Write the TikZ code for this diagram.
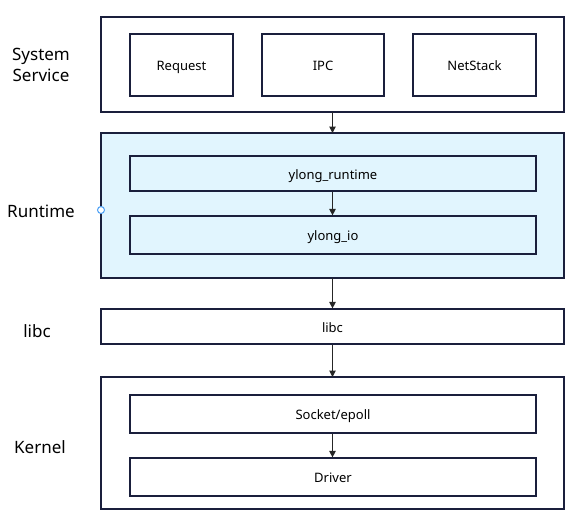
\documentclass[tikz,border=0pt]{standalone}
\usepackage{fontspec}
\setmainfont{Noto Sans}
\usetikzlibrary{arrows.meta}
\definecolor{edge}{HTML}{1A1F3C}
\definecolor{rtfill}{HTML}{E1F5FE}
\definecolor{handle}{HTML}{4A9FF5}
\tikzset{
  layer/.style={draw=edge, line width=1.2pt, rectangle},
  inner/.style={draw=edge, line width=1.2pt, rectangle, font=\fontsize{13}{15}\selectfont, text=black,
    text height=11.8pt, text depth=0pt, inner sep=0pt},
  side/.style={font=\fontsize{17}{21}\selectfont, align=center, text=black},
  flow/.style={draw=black!85, line width=1pt, -{Triangle[length=6.5pt,width=6.5pt]}}
}
\begin{document}
\begin{tikzpicture}[x=1pt,y=-1pt]
\useasboundingbox (0,0) rectangle (580,527);
% layers
\draw[layer] (101,17) rectangle (564,112);
\draw[layer, fill=rtfill] (101,133) rectangle (564,278);
\node[inner, minimum width=463pt, minimum height=35pt] (libc) at (332.5,326.5) {libc};
\draw[layer] (101,377) rectangle (564,509);
% inner boxes
\node[inner, minimum width=103pt, minimum height=62pt] (req) at (181.5,65) {Request};
\node[inner, minimum width=122pt, minimum height=62pt] (ipc) at (323,65) {IPC};
\node[inner, minimum width=123pt, minimum height=62pt] (net) at (474.5,65) {NetStack};
\node[inner, minimum width=406pt, minimum height=35pt] (yrt) at (333,173.5) {ylong\_runtime};
\node[inner, minimum width=406pt, minimum height=38pt] (yio) at (333,235) {ylong\_io};
\node[inner, minimum width=406pt, minimum height=38pt] (sock) at (333,414) {Socket/epoll};
\node[inner, minimum width=406pt, minimum height=38pt] (drv) at (333,477) {Driver};
% side labels
\node[side] (lss) at (41,64.5) {System\\Service};
\node[side] (lrt) at (41,211) {Runtime};
\node[side] (llibc) at (37,331) {libc};
\node[side] (lkn) at (40,447) {Kernel};
% handle
\node[circle, draw=handle, fill=white, line width=1pt, minimum size=7pt, inner sep=0pt] (hd) at (101,210) {};
% connector end points on the layer frames
\coordinate (ssb) at (332.5,112);
\coordinate (rtt) at (332.5,133);
\coordinate (rtb) at (332.5,278);
\coordinate (knt) at (332.5,377);
% connectors
\draw[flow] (ssb) -- (rtt);
\draw[flow] (yrt.south -| ssb) -- (yio.north -| ssb);
\draw[flow] (rtb) -- (libc.north -| ssb);
\draw[flow] (libc.south -| ssb) -- (knt);
\draw[flow] (sock.south -| ssb) -- (drv.north -| ssb);
\end{tikzpicture}
\end{document}
